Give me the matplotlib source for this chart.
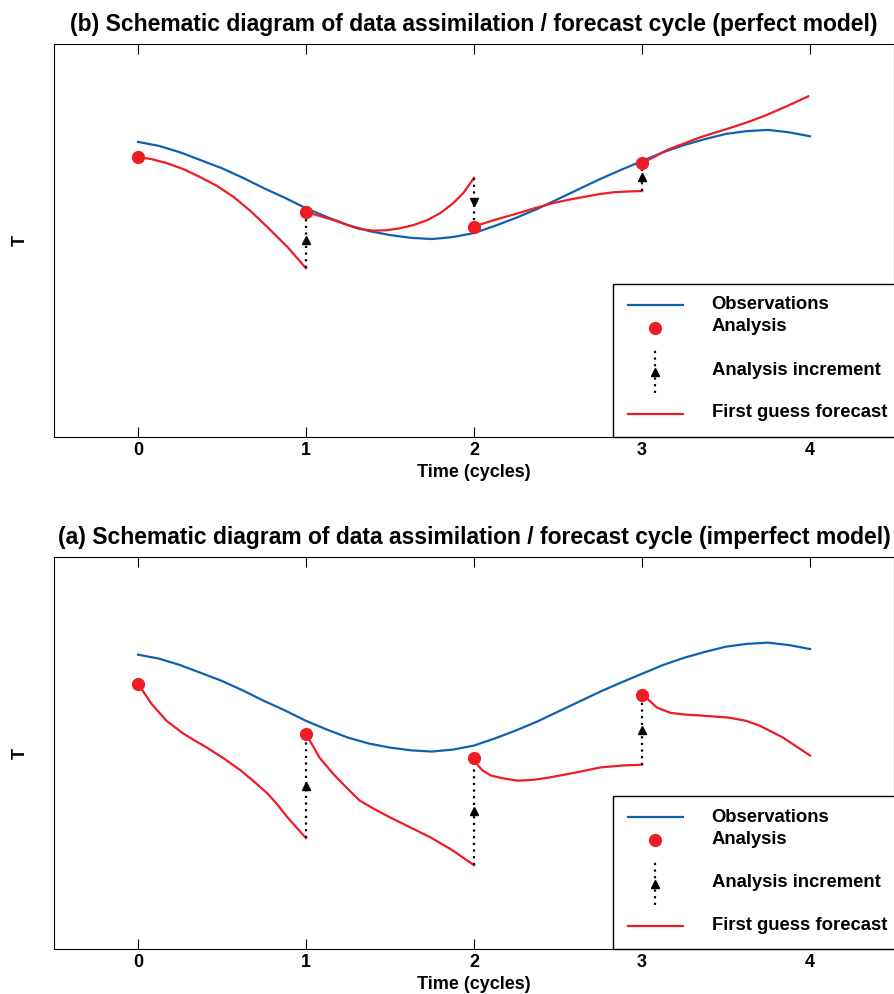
import matplotlib
matplotlib.use("Agg")
import matplotlib.pyplot as plt
from matplotlib.patches import Rectangle

plt.rcParams['font.family'] = ['Liberation Sans', 'DejaVu Sans']
plt.rcParams['font.weight'] = 'bold'
plt.rcParams['lines.solid_joinstyle'] = 'round'

BLUE = '#1060b0'
RED = '#ee1c25'

# observations (same in both panels)
obs_x = [0, 0.125, 0.25, 0.375, 0.5, 0.625, 0.75, 0.875, 1, 1.125, 1.25, 1.375, 1.5,
         1.625, 1.75, 1.875, 2, 2.125, 2.25, 2.375, 2.5, 2.625, 2.75, 2.875, 3,
         3.125, 3.25, 3.375, 3.5, 3.625, 3.75, 3.875, 4]
obs_t = [7.38, 7.28, 7.12, 6.92, 6.72, 6.48, 6.22, 5.98, 5.72, 5.50, 5.30, 5.15, 5.05,
         4.98, 4.95, 5.00, 5.10, 5.28, 5.48, 5.70, 5.95, 6.20, 6.45, 6.68, 6.90,
         7.12, 7.30, 7.45, 7.58, 7.65, 7.68, 7.62, 7.52]

cycles = [0, 1, 2, 3]

# (b) perfect model
perfect_an = [7.00, 5.62, 5.25, 6.85]
perfect_seg_x = [
    [0, 0.08, 0.17, 0.27, 0.37, 0.47, 0.57, 0.67, 0.77, 0.89, 1.0],
    [1, 1.08, 1.16, 1.24, 1.32, 1.4, 1.48, 1.56, 1.64, 1.72, 1.8, 1.88, 1.94, 2.0],
    [2, 2.04, 2.14, 2.25, 2.36, 2.47, 2.56, 2.65, 2.74, 2.83, 2.92, 3.0],
    [3, 3.08, 3.15, 3.25, 3.35, 3.45, 3.54, 3.64, 3.74, 3.86, 3.99],
]
perfect_seg_t = [
    [7.00, 6.95, 6.85, 6.70, 6.50, 6.28, 6.00, 5.65, 5.25, 4.75, 4.22],
    [5.62, 5.53, 5.43, 5.31, 5.20, 5.16, 5.17, 5.22, 5.30, 5.42, 5.60, 5.86, 6.12, 6.48],
    [5.25, 5.32, 5.45, 5.58, 5.72, 5.85, 5.93, 6.00, 6.07, 6.12, 6.14, 6.15],
    [6.85, 7.02, 7.18, 7.34, 7.50, 7.63, 7.75, 7.89, 8.05, 8.27, 8.52],
]

# (a) imperfect model
imperfect_an = [6.65, 5.38, 4.80, 6.38]
imperfect_seg_x = [
    [0, 0.04, 0.08, 0.17, 0.27, 0.34, 0.41, 0.51, 0.61, 0.69, 0.77, 0.83, 0.89, 1.0],
    [1, 1.04, 1.08, 1.16, 1.24, 1.32, 1.41, 1.5, 1.62, 1.74, 1.87, 2.0],
    [2, 2.02, 2.05, 2.1, 2.17, 2.26, 2.35, 2.45, 2.6, 2.75, 2.88, 3.0],
    [3, 3.03, 3.09, 3.17, 3.25, 3.36, 3.52, 3.62, 3.70, 3.84, 4.0],
]
imperfect_seg_t = [
    [6.65, 6.40, 6.15, 5.72, 5.40, 5.22, 5.05, 4.78, 4.48, 4.20, 3.90, 3.62, 3.30, 2.78],
    [5.38, 5.10, 4.80, 4.40, 4.05, 3.72, 3.50, 3.30, 3.05, 2.80, 2.48, 2.10],
    [4.80, 4.62, 4.48, 4.35, 4.28, 4.22, 4.24, 4.30, 4.42, 4.55, 4.60, 4.62],
    [6.38, 6.28, 6.05, 5.92, 5.88, 5.85, 5.80, 5.72, 5.60, 5.30, 4.85],
]


def draw_panel(ax, title, seg_x, seg_t, an_t):
    ax.plot(obs_x, obs_t, color=BLUE, lw=1.6, zorder=2)
    for sx, st in zip(seg_x, seg_t):
        ax.plot(sx, st, color=RED, lw=1.6, zorder=3)
    # analysis increments: from end of previous forecast to new analysis
    for i in range(1, len(cycles)):
        x = cycles[i]
        y0 = seg_t[i - 1][-1]
        y1 = an_t[i]
        ax.plot([x, x], [y0, y1], color='k', ls=(0, (1, 2)), lw=1.6, zorder=4)
        ax.plot(x, (y0 + y1) / 2, marker='^' if y1 > y0 else 'v', color='k',
                ms=6, zorder=5)
    ax.plot(cycles, an_t, 'o', color=RED, ms=8.5, zorder=6)

    ax.set_xlim(-0.5, 4.5)
    ax.set_ylim(0, 9.83)
    ax.set_xticks([0, 1, 2, 3, 4])
    ax.set_yticks([])
    ax.tick_params(axis='x', direction='in', top=True, length=7, labelsize=13)
    ax.set_xlabel('Time (cycles)', fontsize=13, fontweight='bold', labelpad=4)
    ax.set_ylabel('T', fontsize=13, fontweight='bold', labelpad=18)
    ax.set_title(title, fontsize=16.5, fontweight='bold', pad=9)

    # legend box
    tr = ax.transAxes
    ax.add_patch(Rectangle((0.6655, 0), 0.34, 0.389, transform=tr, facecolor='white',
                           edgecolor='k', lw=1, zorder=10, clip_on=False))
    ax.plot([0.683, 0.749], [0.336, 0.336], color=BLUE, lw=1.6, transform=tr, zorder=11)
    ax.plot([0.7155], [0.277], 'o', color=RED, ms=8.5, transform=tr, zorder=11)
    ax.plot([0.7155, 0.7155], [0.112, 0.221], color='k', ls=(0, (1, 2)), lw=1.6,
            transform=tr, zorder=11)
    ax.plot([0.7155], [0.166], marker='^', color='k', ms=6, transform=tr, zorder=12)
    ax.plot([0.683, 0.749], [0.0585, 0.0585], color=RED, lw=1.6, transform=tr, zorder=11)
    labels = ['Observations', 'Analysis', 'Analysis increment', 'First guess forecast']
    ys = [0.336, 0.280, 0.170, 0.061]
    for lab, y in zip(labels, ys):
        ax.text(0.783, y, lab, transform=tr, fontsize=13.3, fontweight='bold',
                va='center', ha='left', zorder=12)


fig = plt.figure(figsize=(8.94, 9.94), dpi=100)
ax_b = fig.add_axes([0.0604, 0.5604, 0.9396, 0.3954])
ax_a = fig.add_axes([0.0604, 0.0453, 0.9396, 0.3944])

draw_panel(ax_b, '(b) Schematic diagram of data assimilation / forecast cycle (perfect model)',
           perfect_seg_x, perfect_seg_t, perfect_an)
draw_panel(ax_a, '(a) Schematic diagram of data assimilation / forecast cycle (imperfect model)',
           imperfect_seg_x, imperfect_seg_t, imperfect_an)

fig.savefig('out.png', dpi=100)
